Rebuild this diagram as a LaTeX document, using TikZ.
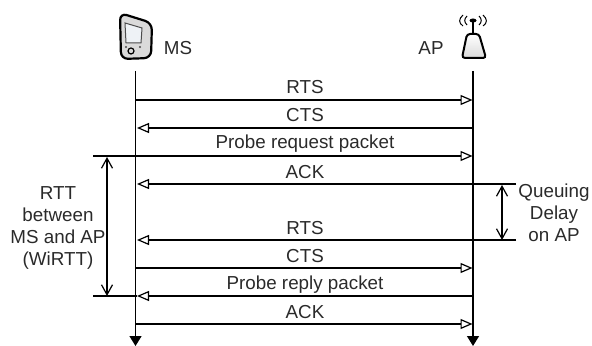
\documentclass[tikz,border=0pt]{standalone}
\usepackage{fontspec}
\setmainfont{Liberation Sans}
\usetikzlibrary{
    arrows.meta,
    calc
}
\definecolor{labelgray}{HTML}{2A2A2A}
\definecolor{devicegray}{HTML}{DADADA}
\definecolor{screenblue}{HTML}{EEF2F6}
\tikzset{
    label/.style={inner sep=0pt, text=labelgray, font=\fontsize{9.4}{11}\selectfont},
    time/.style={line width=0.7pt, -{Triangle[length=5pt, width=6pt]}},
    msg/.style={line width=0.6pt, -{Triangle[open, length=6pt, width=5pt, line width=0.6pt]}},
    tick/.style={line width=0.6pt},
    span/.style={line width=0.6pt, {Straight Barb[length=5pt, width=5.5pt]}-{Straight Barb[length=5pt, width=5.5pt]}},
    wave/.style={line width=0.5pt}
}
\begin{document}
\begin{tikzpicture}[x=0.5pt, y=-0.5pt]
    \useasboundingbox (0, 0) rectangle (592, 346);
    % time lines
    \coordinate (mstop) at (135.5, 71);
    \coordinate (msend) at (135.5, 346);
    \coordinate (aptop) at (473, 71);
    \coordinate (apend) at (473, 346);
    \draw[time] (mstop) -- (msend);
    \draw[time] (aptop) -- (apend);
    % ends of the messages
    \coordinate (ms1) at (135.5, 100);
    \coordinate (ap1) at (472.5, 100);
    \coordinate (ms2) at (137, 128);
    \coordinate (ap2) at (473, 128);
    \coordinate (ltop) at (93, 156);
    \coordinate (ap3) at (472.5, 156);
    \coordinate (ms4) at (137, 184);
    \coordinate (rtop) at (516, 184);
    \coordinate (ms5) at (137, 240);
    \coordinate (rbot) at (516, 240);
    \coordinate (ms6) at (135.5, 268);
    \coordinate (ap6) at (472.5, 268);
    \coordinate (ms7) at (137, 296);
    \coordinate (ap7) at (473, 296);
    \coordinate (lbot) at (93, 296);
    \coordinate (ms8) at (135.5, 324);
    \coordinate (ap8) at (472.5, 324);
    % messages
    \draw[msg] (ms1) -- (ap1);
    \draw[msg] (ap2) -- (ms2);
    \draw[msg] (ltop) -- (ap3);
    \draw[msg] (rtop) -- (ms4);
    \draw[msg] (rbot) -- (ms5);
    \draw[msg] (ms6) -- (ap6);
    \draw[msg] (ap7) -- (ms7);
    \draw[tick] (lbot) -- (ms7);
    \draw[msg] (ms8) -- (ap8);
    \node[label] (rts1) at (305, 87) {RTS};
    \node[label] (cts1) at (305, 115) {CTS};
    \node[label] (req) at (305, 144) {Probe request packet};
    \node[label] (ack1) at (305, 172) {ACK};
    \node[label] (rts2) at (305, 228) {RTS};
    \node[label] (cts2) at (305, 256) {CTS};
    \node[label] (rep) at (305, 285) {Probe reply packet};
    \node[label] (ack2) at (305, 312) {ACK};
    % intervals
    \coordinate (la) at (107, 157);
    \coordinate (lb) at (107, 296);
    \coordinate (ra) at (502, 185);
    \coordinate (rb) at (502, 240);
    \draw[span] (la) -- (lb);
    \draw[span] (ra) -- (rb);
    \node[label, align=center] (wirtt) at (58, 228) {RTT\\between\\MS and AP\\(WiRTT)};
    \node[label, align=center] (queue) at (554, 213) {Queuing\\Delay\\on AP};
    \node[label] (mslabel) at (178, 48) {MS};
    \node[label] (aplabel) at (431, 48) {AP};
    % MS device
    \draw[line width=1.1pt, rounded corners=3.5pt, fill=devicegray]
        (120, 13) -- (152, 23) -- (151, 58) -- (121, 59) -- cycle;
    \draw[line width=0.5pt, fill=screenblue, draw=black!70]
        (125, 23) -- (142, 28) -- (141, 43) -- (126, 43) -- cycle;
    \draw[line width=0.6pt, fill=devicegray] (131, 51) circle (3);
    \fill[black!70] (126, 47) circle (1.2) (140, 47) circle (1.2);
    % AP antenna
    \draw[line width=1pt, rounded corners=1.5pt, top color=white, bottom color=devicegray]
        (467, 34) -- (479, 34) -- (486, 58) -- (462, 58) -- cycle;
    \draw[line width=1.1pt] (473, 20) -- (473, 34);
    \fill (473, 20.5) ellipse (3.5 and 2);
    \draw[wave] (463, 15) .. controls (458.5, 19) and (458.5, 23) .. (463, 26);
    \draw[wave] (467, 16) .. controls (464, 19) and (464, 22) .. (467, 25);
    \draw[wave] (479, 16) .. controls (482, 19) and (482, 22) .. (479, 25);
    \draw[wave] (483, 15) .. controls (487.5, 19) and (487.5, 23) .. (483, 26);
\end{tikzpicture}
\end{document}
